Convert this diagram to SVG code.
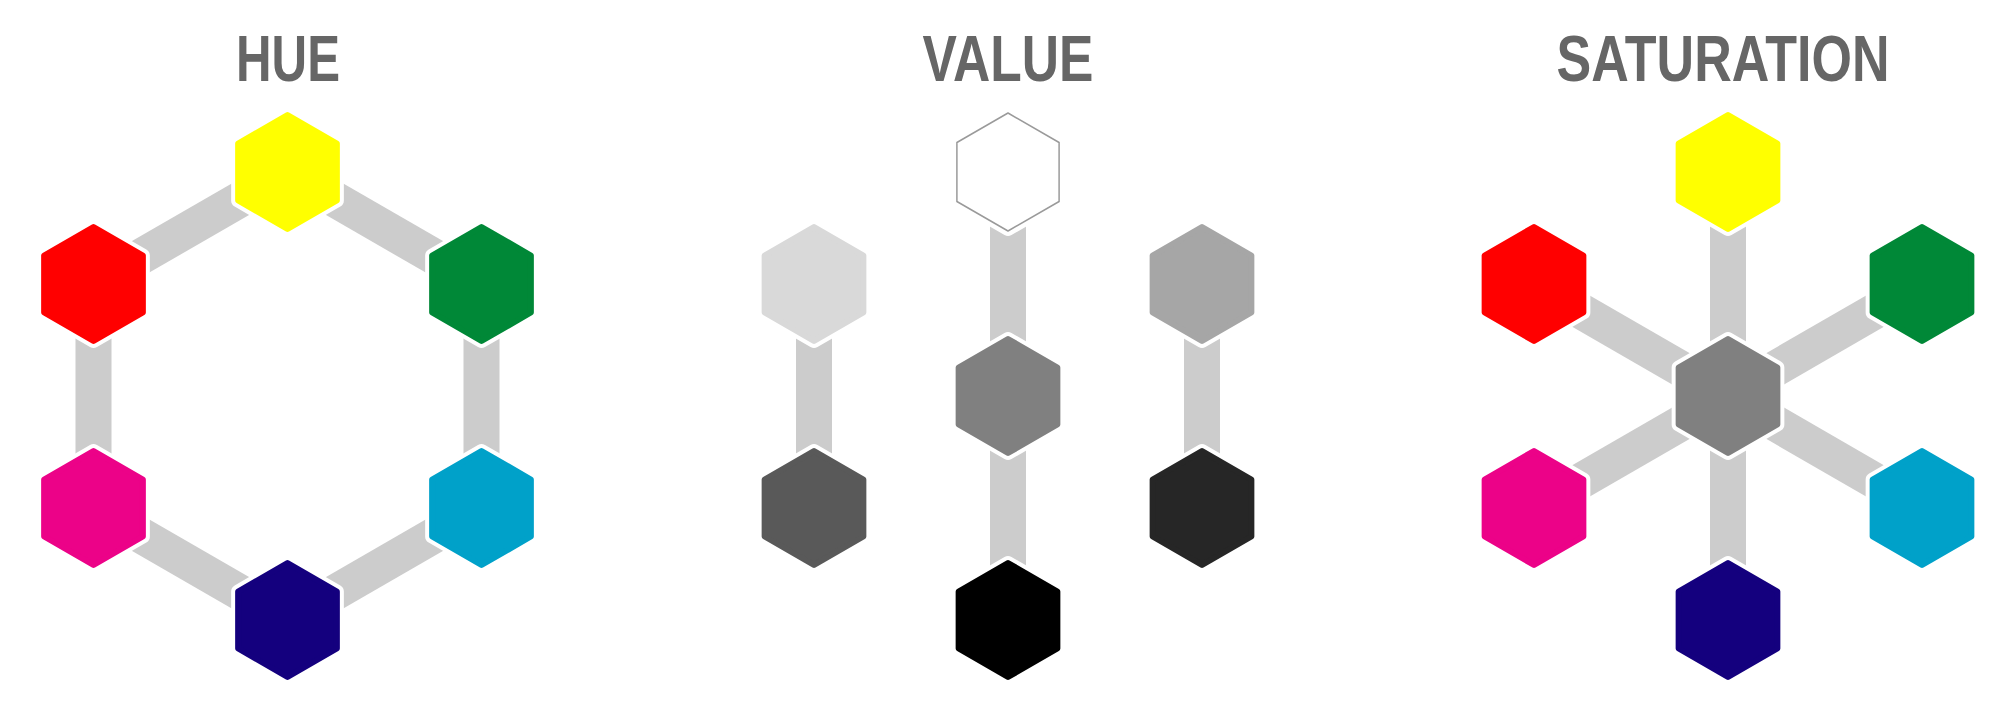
<svg xmlns="http://www.w3.org/2000/svg" xmlns:xlink="http://www.w3.org/1999/xlink" width="2016" height="720" viewBox="0 0 2016 720">
<style>
.title{font-family:"Liberation Sans",Arial,sans-serif;font-weight:700;font-size:64px;fill:#666666;text-anchor:middle}
.bar{stroke:#cccccc;stroke-width:36;fill:none}
.halo{fill:#ffffff;stroke:#ffffff;stroke-width:14;stroke-linejoin:round}
.hex{stroke-width:6;stroke-linejoin:round}
</style>
<defs>
<polygon id="hp" points="0,-57 49.36,-28.5 49.36,28.5 0,57 -49.36,28.5 -49.36,-28.5"/>
</defs>
<rect width="2016" height="720" fill="#ffffff"/>
<text class="title" x="288" y="81" textLength="104" lengthAdjust="spacingAndGlyphs">HUE</text>
<text class="title" x="1008" y="81" textLength="171" lengthAdjust="spacingAndGlyphs">VALUE</text>
<text class="title" x="1723" y="81" textLength="333" lengthAdjust="spacingAndGlyphs">SATURATION</text>
<g id="connectors">
<line class="bar" x1="287.5" y1="172" x2="481.5" y2="284"/>
<line class="bar" x1="481.5" y1="284" x2="481.5" y2="508"/>
<line class="bar" x1="481.5" y1="508" x2="287.5" y2="620"/>
<line class="bar" x1="287.5" y1="620" x2="93.5" y2="508"/>
<line class="bar" x1="93.5" y1="508" x2="93.5" y2="284"/>
<line class="bar" x1="93.5" y1="284" x2="287.5" y2="172"/>
<line class="bar" x1="814" y1="284" x2="814" y2="508"/>
<line class="bar" x1="1008" y1="172" x2="1008" y2="620"/>
<line class="bar" x1="1202" y1="284" x2="1202" y2="508"/>
<line class="bar" x1="1728" y1="172" x2="1728" y2="620"/>
<line class="bar" x1="1534" y1="284" x2="1922" y2="508"/>
<line class="bar" x1="1534" y1="508" x2="1922" y2="284"/>
</g>
<g id="hue-yellow" transform="translate(287.5,172)"><use xlink:href="#hp" class="halo"/><use xlink:href="#hp" class="hex" fill="#ffff00" stroke="#ffff00"/></g>
<g id="hue-green" transform="translate(481.5,284)"><use xlink:href="#hp" class="halo"/><use xlink:href="#hp" class="hex" fill="#008837" stroke="#008837"/></g>
<g id="hue-cyan" transform="translate(481.5,508)"><use xlink:href="#hp" class="halo"/><use xlink:href="#hp" class="hex" fill="#00a1c9" stroke="#00a1c9"/></g>
<g id="hue-blue" transform="translate(287.5,620)"><use xlink:href="#hp" class="halo"/><use xlink:href="#hp" class="hex" fill="#14007e" stroke="#14007e"/></g>
<g id="hue-magenta" transform="translate(93.5,508)"><use xlink:href="#hp" class="halo"/><use xlink:href="#hp" class="hex" fill="#ec0288" stroke="#ec0288"/></g>
<g id="hue-red" transform="translate(93.5,284)"><use xlink:href="#hp" class="halo"/><use xlink:href="#hp" class="hex" fill="#ff0000" stroke="#ff0000"/></g>
<g id="val-white" transform="translate(1008,172)"><use xlink:href="#hp" class="halo"/><polygon points="0,-59 51.1,-29.5 51.1,29.5 0,59 -51.1,29.5 -51.1,-29.5" fill="#ffffff" stroke="#9a9a9a" stroke-width="1.5" stroke-linejoin="round"/></g>
<g id="val-gray" transform="translate(1008,396)"><use xlink:href="#hp" class="halo"/><use xlink:href="#hp" class="hex" fill="#808080" stroke="#808080"/></g>
<g id="val-black" transform="translate(1008,620)"><use xlink:href="#hp" class="halo"/><use xlink:href="#hp" class="hex" fill="#000000" stroke="#000000"/></g>
<g id="val-lightgray" transform="translate(814,284)"><use xlink:href="#hp" class="halo"/><use xlink:href="#hp" class="hex" fill="#d9d9d9" stroke="#d9d9d9"/></g>
<g id="val-darkgray" transform="translate(814,508)"><use xlink:href="#hp" class="halo"/><use xlink:href="#hp" class="hex" fill="#595959" stroke="#595959"/></g>
<g id="val-midgray" transform="translate(1202,284)"><use xlink:href="#hp" class="halo"/><use xlink:href="#hp" class="hex" fill="#a6a6a6" stroke="#a6a6a6"/></g>
<g id="val-nearblack" transform="translate(1202,508)"><use xlink:href="#hp" class="halo"/><use xlink:href="#hp" class="hex" fill="#262626" stroke="#262626"/></g>
<g id="sat-center" transform="translate(1728,396)"><use xlink:href="#hp" class="halo"/><use xlink:href="#hp" class="hex" fill="#808080" stroke="#808080"/></g>
<g id="sat-yellow" transform="translate(1728,172)"><use xlink:href="#hp" class="halo"/><use xlink:href="#hp" class="hex" fill="#ffff00" stroke="#ffff00"/></g>
<g id="sat-green" transform="translate(1922,284)"><use xlink:href="#hp" class="halo"/><use xlink:href="#hp" class="hex" fill="#008837" stroke="#008837"/></g>
<g id="sat-cyan" transform="translate(1922,508)"><use xlink:href="#hp" class="halo"/><use xlink:href="#hp" class="hex" fill="#00a1c9" stroke="#00a1c9"/></g>
<g id="sat-blue" transform="translate(1728,620)"><use xlink:href="#hp" class="halo"/><use xlink:href="#hp" class="hex" fill="#14007e" stroke="#14007e"/></g>
<g id="sat-magenta" transform="translate(1534,508)"><use xlink:href="#hp" class="halo"/><use xlink:href="#hp" class="hex" fill="#ec0288" stroke="#ec0288"/></g>
<g id="sat-red" transform="translate(1534,284)"><use xlink:href="#hp" class="halo"/><use xlink:href="#hp" class="hex" fill="#ff0000" stroke="#ff0000"/></g>
</svg>
